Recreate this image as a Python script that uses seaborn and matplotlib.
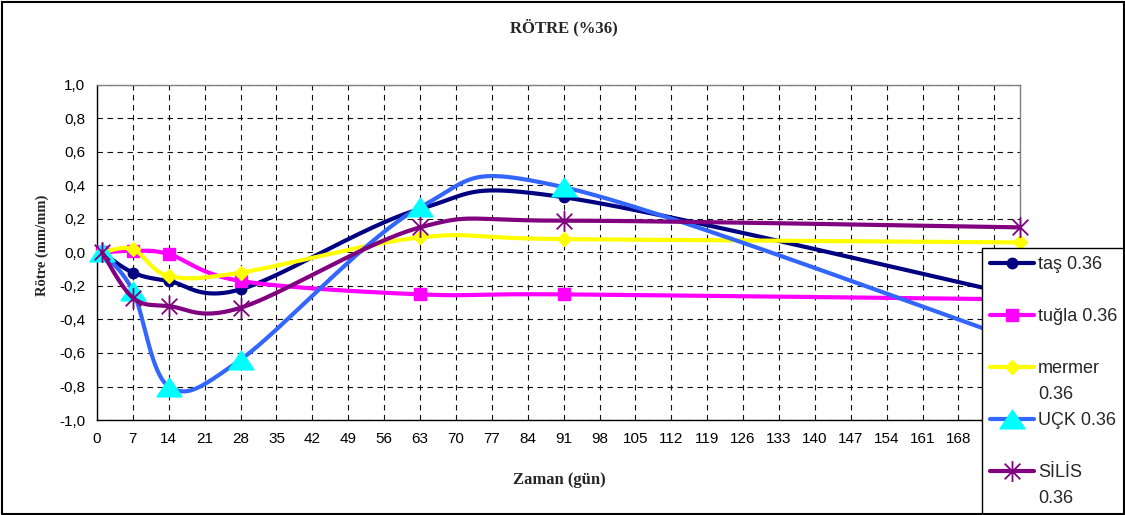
import numpy as np
import pandas as pd
import matplotlib
matplotlib.use("Agg")
import matplotlib.pyplot as plt
from matplotlib.path import Path
from matplotlib.lines import Line2D
from matplotlib.patches import Rectangle
import seaborn as sns

# Shrinkage (rötre) measurements at w/c 0.36, days of curing
days = [1, 7, 14, 28, 63, 91, 180]
tas = [0.00, -0.12, -0.17, -0.22, 0.26, 0.33, -0.26]
tugla = [0.00, 0.01, -0.01, -0.17, -0.25, -0.25, -0.28]
mermer = [0.00, 0.02, -0.14, -0.12, 0.09, 0.08, 0.06]
uck = [0.00, -0.23, -0.80, -0.64, 0.27, 0.39, -0.53]
silis = [0.00, -0.27, -0.32, -0.33, 0.15, 0.19, 0.15]

series_names = ["taş 0.36", "tuğla 0.36", "mermer 0.36", "UÇK 0.36", "SİLİS 0.36"]
# legend text as it wraps inside the legend box, one row per line
legend_rows = [["taş 0.36", ""], ["tuğla 0.36", ""], ["mermer", "0.36"],
               ["UÇK 0.36", ""], ["SİLİS", "0.36"]]

x_ticks = [0, 7, 14, 21, 28, 35, 42, 49, 56, 63, 70, 77, 84, 91, 98, 105,
           112, 119, 126, 133, 140, 147, 154, 161, 168, 175]
y_ticks = [-1.0, -0.8, -0.6, -0.4, -0.2, 0.0, 0.2, 0.4, 0.6, 0.8, 1.0]
y_tick_labels = ["-1,0", "-0,8", "-0,6", "-0,4", "-0,2", "0,0",
                 "0,2", "0,4", "0,6", "0,8", "1,0"]

# Marker shapes: flat triangle and asterisk (vertical bar plus X)
tri_path = Path([(0, 0.75), (-1, -0.75), (1, -0.75), (0, 0.75)],
                [Path.MOVETO, Path.LINETO, Path.LINETO, Path.CLOSEPOLY])
star_path = Path([(0, -1), (0, 1), (-0.75, -0.75), (0.75, 0.75),
                  (-0.75, 0.75), (0.75, -0.75)],
                 [Path.MOVETO, Path.LINETO] * 3)

styles = [
    dict(line="#000080", marker="o", ms=7.5, mfc="#000080", mec="#000080", mew=1),
    dict(line="#ff00ff", marker="s", ms=9, mfc="#ff00ff", mec="#ff00ff", mew=1),
    dict(line="#ffff00", marker="D", ms=7.5, mfc="#ffff00", mec="#ffff00", mew=1),
    dict(line="#3366ff", marker=tri_path, ms=18, mfc="#00ffff", mec="#00ffff", mew=1),
    dict(line="#800080", marker=star_path, ms=15, mfc="none", mec="#800080", mew=1.3),
]


def smooth_curve(xs, ys, n=40):
    """Cubic Bezier smoothing through the points (tension 1/6)."""
    P = np.column_stack([xs, ys]).astype(float)
    m = len(P)
    out = [P[:1]]
    t = np.linspace(0, 1, n)[1:, None]
    for i in range(m - 1):
        pm = P[max(i - 1, 0)]
        p0, p1 = P[i], P[i + 1]
        p2 = P[min(i + 2, m - 1)]
        c1 = p0 + (p1 - pm) / 6.0
        c2 = p1 - (p2 - p0) / 6.0
        seg = ((1 - t) ** 3) * p0 + 3 * ((1 - t) ** 2) * t * c1 \
            + 3 * (1 - t) * t ** 2 * c2 + t ** 3 * p1
        out.append(seg)
    return np.vstack(out)


sns.set_style("white")
plt.rcParams["font.family"] = ["Liberation Sans", "DejaVu Sans"]

W, H = 1125, 515
fig = plt.figure(figsize=(W / 100, H / 100), dpi=100)
left, right, top, bottom = 97, 1020, 85, 420
ax = fig.add_axes([left / W, 1 - bottom / H, (right - left) / W, (bottom - top) / H])

all_values = [tas, tugla, mermer, uck, silis]
frames = []
for name, vals in zip(series_names, all_values):
    c = smooth_curve(days, vals)
    frames.append(pd.DataFrame({"gün": c[:, 0], "rötre": c[:, 1], "seri": name}))
curves = pd.concat(frames, ignore_index=True)

handles, labels = [], []
for i, (name, vals, st, rows) in enumerate(zip(series_names, all_values, styles, legend_rows)):
    sub = curves[curves["seri"] == name]
    sns.lineplot(data=sub, x="gün", y="rötre", sort=False, estimator=None,
                 color=st["line"], lw=3, ax=ax, zorder=3 + 2 * i, legend=False)
    ax.plot(days, vals, linestyle="none", marker=st["marker"], ms=st["ms"],
            mfc=st["mfc"], mec=st["mec"], mew=st["mew"], zorder=4 + 2 * i,
            clip_on=False)
    handles.append(Line2D([], [], color=st["line"], lw=3, marker=st["marker"],
                          ms=st["ms"], mfc=st["mfc"], mec=st["mec"], mew=st["mew"]))
    labels.append(rows[0])
    handles.append(Line2D([], [], color="none", lw=0))
    labels.append(rows[1])

ax.set_xlim(0, 180)
ax.set_ylim(-1.0, 1.0)
ax.set_xticks(x_ticks)
ax.set_xticklabels([str(v) for v in x_ticks])
ax.set_yticks(y_ticks)
ax.set_yticklabels(y_tick_labels)
ax.tick_params(axis="both", direction="inout", length=7, width=1, color="black",
               labelsize=11, pad=5, labelcolor="black")

ax.grid(True, color="#111111", lw=0.8, linestyle=(0, (5, 4)))
ax.set_axisbelow(True)
for s in ["left", "bottom"]:
    ax.spines[s].set_color("black")
    ax.spines[s].set_linewidth(1)
for s in ["top", "right"]:
    ax.spines[s].set_color("#808080")
    ax.spines[s].set_linewidth(1)

serif = ["Liberation Serif", "DejaVu Serif"]
ax.set_xlabel("Zaman (gün)", family=serif, fontweight="bold", fontsize=12, labelpad=0)
ax.xaxis.set_label_coords((559 - left) / (right - left), -(480 - bottom) / (bottom - top))
ax.set_ylabel("Rötre (mm/mm)", family=serif, fontweight="bold", fontsize=10.5)
ax.yaxis.set_label_coords((42 - left) / (right - left), (bottom - 245) / (bottom - top))
ax.xaxis.label.set_va("center")
ax.yaxis.label.set_va("center")

fig.text(564 / W, 1 - 28 / H, "RÖTRE (%36)", family=serif, fontweight="bold",
         fontsize=12, ha="center", va="center")

leg = fig.legend(handles, labels, loc="upper left",
                 bbox_to_anchor=(982 / W, 1 - 248 / H), borderaxespad=0,
                 frameon=True, fancybox=False, framealpha=1, edgecolor="black",
                 fontsize=13, handlelength=2.45, handletextpad=0.2,
                 borderpad=0.45, labelspacing=0.5)
leg.get_frame().set_linewidth(1)

fig.patches.append(Rectangle((1.5 / W, 1.5 / H), (W - 3) / W, (H - 3) / H,
                             transform=fig.transFigure, fill=False,
                             ec="black", lw=1.5, zorder=20))

fig.savefig("out.png", dpi=100, facecolor="white")
